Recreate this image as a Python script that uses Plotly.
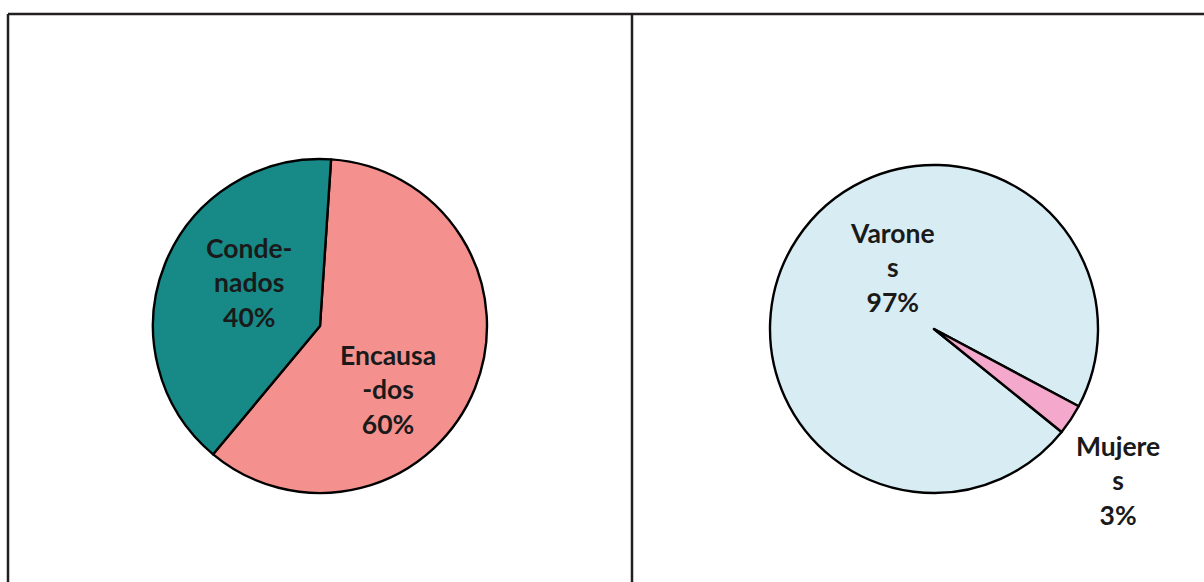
import plotly.graph_objects as go

# Data
left_labels = ["Encausados", "Condenados"]
left_values = [60, 40]
left_text = ["Encausa<br>-dos<br>60%", "Conde-<br>nados<br>40%"]
left_colors = ["#F4918E", "#178A88"]

right_labels = ["Varones", "Mujeres"]
right_values = [97, 3]
right_text = ["Varone<br>s<br>97%", "Mujere<br>s<br>3%"]
right_colors = ["#D7EDF3", "#F3A8CC"]

W, H = 1204, 582

def px_x(x):
    return x / W

def px_y(y):
    return 1 - y / H

fig = go.Figure()
fig.add_trace(go.Pie(
    labels=left_labels, values=left_values, sort=False, direction="clockwise",
    rotation=3.8, textinfo="none", hoverinfo="label+percent",
    marker=dict(colors=left_colors, line=dict(color="#000000", width=2.4)),
    domain=dict(x=[px_x(153), px_x(487)], y=[px_y(493), px_y(159)]),
    showlegend=False,
))
fig.add_trace(go.Pie(
    labels=right_labels, values=right_values, sort=False, direction="clockwise",
    rotation=128.9, textinfo="none", hoverinfo="label+percent",
    marker=dict(colors=right_colors, line=dict(color="#000000", width=2.4)),
    domain=dict(x=[px_x(770), px_x(1098)], y=[px_y(493), px_y(165)]),
    showlegend=False,
))

font = dict(family="Lato, 'Open Sans', sans-serif", size=26.5, color="#1a1a1a")
label_pos = {
    "Encausados": (388, 390),
    "Condenados": (249, 282),
    "Varones": (892, 268),
    "Mujeres": (1118, 481),
}
annotations = []
for labs, texts in ((left_labels, left_text), (right_labels, right_text)):
    for lab, txt in zip(labs, texts):
        x, y = label_pos[lab]
        annotations.append(dict(
            x=px_x(x), y=px_y(y), xref="paper", yref="paper", text="<b>" + txt + "</b>",
            showarrow=False, font=font, align="center", xanchor="center", yanchor="middle",
        ))

line = dict(color="#231F20", width=2.5)
shapes = [
    dict(type="line", xref="paper", yref="paper", x0=px_x(8), x1=1, y0=px_y(14), y1=px_y(14), line=line),
    dict(type="line", xref="paper", yref="paper", x0=px_x(8), x1=px_x(8), y0=px_y(14), y1=0, line=line),
    dict(type="line", xref="paper", yref="paper", x0=px_x(632), x1=px_x(632), y0=px_y(14), y1=0, line=line),
]

fig.update_layout(
    width=W, height=H, margin=dict(l=0, r=0, t=0, b=0),
    paper_bgcolor="white", plot_bgcolor="white",
    annotations=annotations, shapes=shapes,
)
fig.write_html("out.html", config={"displayModeBar": False},
               post_script="document.body.style.margin='0px';")
